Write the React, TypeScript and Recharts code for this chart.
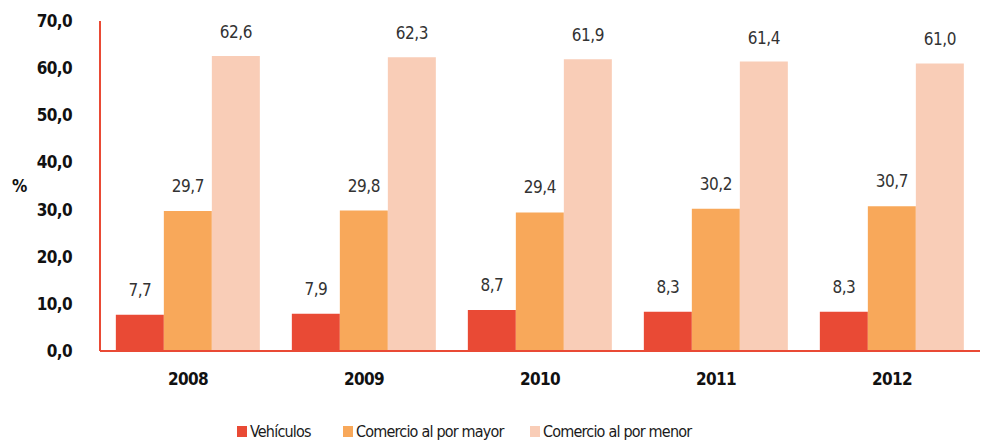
import React from 'react';
import { BarChart, Bar, XAxis, YAxis, LabelList, Legend } from 'recharts';

const years = ['2008', '2009', '2010', '2011', '2012'];
const vehiculos = [7.7, 7.9, 8.7, 8.3, 8.3];
const mayor = [29.7, 29.8, 29.4, 30.2, 30.7];
const menor = [62.6, 62.3, 61.9, 61.4, 61.0];
const yTicks = [0, 10, 20, 30, 40, 50, 60, 70];
const seriesNames = ['Vehículos', 'Comercio al por mayor', 'Comercio al por menor'];

const data = years.map((y, i) => ({ year: y, v: vehiculos[i], ma: mayor[i], me: menor[i] }));

const FONT = "'DejaVu Sans Condensed', 'Liberation Sans Narrow', 'Roboto', sans-serif";
const RED = '#e94a35';
const ORANGE = '#f8a85a';
const PINK = '#f9cdb7';
const colors = [RED, ORANGE, PINK];

const fmt = (v: number) => v.toFixed(1).replace('.', ',');

const LegendContent = () => (
  <div style={{ position: 'relative', height: 20, fontFamily: FONT, fontSize: 16, letterSpacing: -0.8, color: '#1a1a1a' }}>
    {seriesNames.map((n, i) => {
      const lefts = [237, 343, 530];
      return (
        <div key={n} style={{ position: 'absolute', left: lefts[i], top: 0, display: 'flex', alignItems: 'center', whiteSpace: 'nowrap' }}>
          <span style={{ display: 'inline-block', width: 10, height: 11, background: colors[i], marginRight: 3 }} />
          <span>{n}</span>
        </div>
      );
    })}
  </div>
);

const labelStyle = { fill: '#333', fontSize: 17, letterSpacing: -0.5, fontFamily: FONT };

export default function App() {
  return (
    <div style={{ position: 'absolute', left: 0, top: 0, width: 982, height: 444, background: '#fff' }}>
      <BarChart
        width={982}
        height={444}
        data={data}
        margin={{ top: 21, right: 2, bottom: 43, left: 0 }}
        barCategoryGap="9%"
        barGap={0}
      >
        <XAxis
          dataKey="year"
          height={30}
          stroke={RED}
          strokeWidth={2}
          tickLine={false}
          tickMargin={16}
          tick={{ fill: '#111', fontSize: 17, letterSpacing: -0.6, fontWeight: 'bold', fontFamily: FONT }}
        />
        <YAxis
          width={100}
          domain={[0, 70]}
          ticks={yTicks}
          tickFormatter={fmt}
          stroke={RED}
          strokeWidth={2}
          tickLine={false}
          tickMargin={22}
          tick={{ fill: '#111', fontSize: 17, letterSpacing: -0.6, fontWeight: 'bold', fontFamily: FONT }}
          label={{ value: '%', position: 'insideLeft', offset: 12, fill: '#111', fontSize: 17, fontWeight: 'bold', fontFamily: FONT }}
        />
        <Legend verticalAlign="bottom" height={20} wrapperStyle={{ left: 0, bottom: 2, width: 982 }} content={<LegendContent />} />
        <Bar dataKey="v" name={seriesNames[0]} fill={RED} isAnimationActive={false}>
          <LabelList dataKey="v" position="top" offset={19} formatter={(v: any) => fmt(Number(v))} style={labelStyle} />
        </Bar>
        <Bar dataKey="ma" name={seriesNames[1]} fill={ORANGE} isAnimationActive={false}>
          <LabelList dataKey="ma" position="top" offset={19} formatter={(v: any) => fmt(Number(v))} style={labelStyle} />
        </Bar>
        <Bar dataKey="me" name={seriesNames[2]} fill={PINK} isAnimationActive={false}>
          <LabelList dataKey="me" position="top" offset={18} formatter={(v: any) => fmt(Number(v))} style={labelStyle} />
        </Bar>
      </BarChart>
    </div>
  );
}
